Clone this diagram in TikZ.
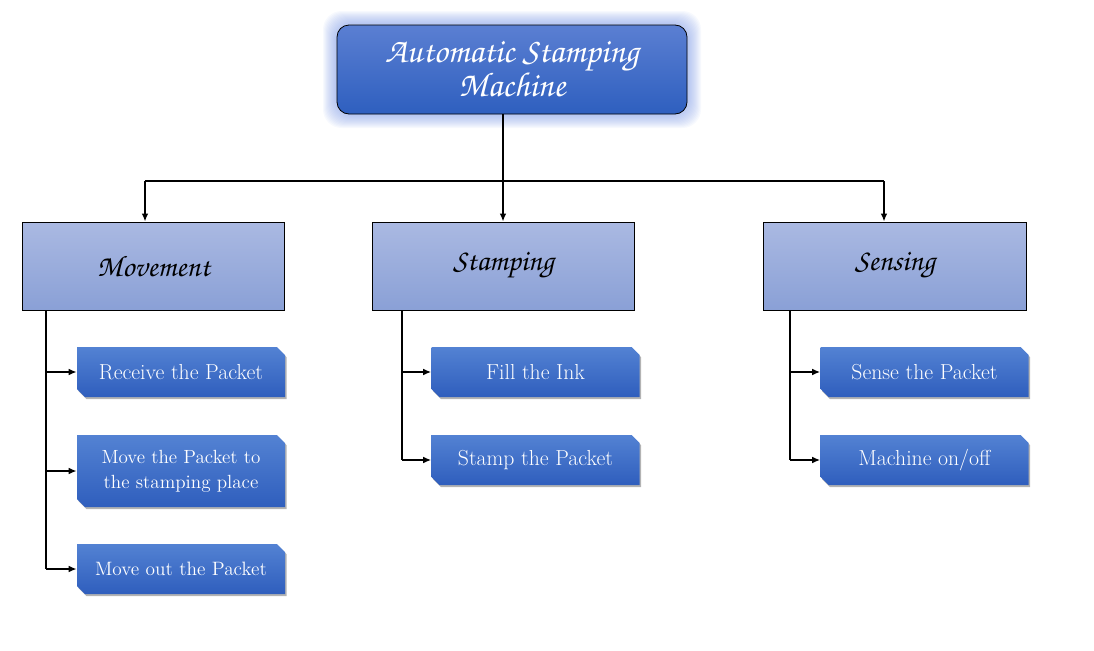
\documentclass[tikz,border=0pt]{standalone}
\usepackage[T1,TU]{fontenc}
\usepackage{xcolor}
\usepackage{tikz}
\usetikzlibrary{arrows.meta, positioning, shapes.misc, shadows, calc}

\definecolor{topblue}{HTML}{5B7FD2}
\definecolor{botblue}{HTML}{2E5FBF}
\definecolor{glowblue}{HTML}{7F9BE6}
\definecolor{grouptop}{HTML}{AAB9E2}
\definecolor{groupbot}{HTML}{8AA0D6}
\definecolor{tasktop}{HTML}{5382D3}
\definecolor{taskbot}{HTML}{2F5EBD}

\newcommand{\zapffont}{\fontencoding{T1}\fontfamily{pzc}\fontseries{mb}\fontshape{it}\selectfont}

\tikzset{
  topbox/.style={draw=black, line width=0.6pt, rounded corners=9pt,
    top color=topblue, bottom color=botblue,
    minimum width=262.5pt, minimum height=66.75pt, text=white, align=center,
    font=\zapffont\fontsize{26}{21}\selectfont},
  groupbox/.style={draw=black, line width=0.6pt,
    top color=grouptop, bottom color=groupbot,
    minimum width=197pt, minimum height=66pt,
    font=\zapffont\fontsize{22.5}{24}\selectfont},
  taskbox/.style={chamfered rectangle, chamfered rectangle corners={north east,south west},
    chamfered rectangle xsep=3pt, chamfered rectangle ysep=3pt,
    top color=tasktop, bottom color=taskbot, inner sep=0pt,
    minimum width=156pt, minimum height=37.5pt, text=white, align=center,
    drop shadow={shadow xshift=1.2pt, shadow yshift=-1.6pt, opacity=0.6, fill=black!50},
    font=\fontsize{16.3}{19}\selectfont},
  link/.style={line width=1.3pt, -{Latex[length=6pt,width=5pt]}}
}

\begin{document}
\begin{tikzpicture}[x=0.75pt, y=-0.75pt]
  % frame 1094 x 650 px, y downwards
  \useasboundingbox (0,0) rectangle (1094,650);
  % glow round the title box
  \foreach \g in {1,...,14} {
    \fill[glowblue, opacity=0.06, rounded corners=14pt] (337-\g,25-\g) rectangle (687+\g,114+\g);
  }
  \node[topbox] (machine) at (512,69.5) {Automatic Stamping\\[-2pt]Machine};

  % groups
  \node[groupbox] (movement) at (153.5,266) {Movement};
  \node[groupbox] (stamping) at (503.5,266) {Stamping};
  \node[groupbox] (sensing) at (895,266) {Sensing};

  % bus
  \coordinate (busL) at (145,181);
  \coordinate (busM) at (503,181);
  \coordinate (busR) at (884,181);
  \draw[line width=1.3pt] (machine.south -| busM) -- (busM);
  \draw[line width=1.3pt] (busL) -- (busR);
  \draw[link] (busL) -- (busL |- movement.north);
  \draw[link] (busM) -- (busM |- stamping.north);
  \draw[link] (busR) -- (busR |- sensing.north);

  % tasks
  \node[taskbox] (receive) at (181,372) {Receive the Packet};
  \node[taskbox, minimum height=54pt, font=\fontsize{14.3}{18.75}\selectfont] (moveto) at (181,471) {Move the Packet to\\the stamping place};
  \node[taskbox, font=\fontsize{14.5}{17}\selectfont] (moveout) at (181,569) {Move out the Packet};
  \node[taskbox] (fill) at (535.5,372) {Fill the Ink};
  \node[taskbox] (stamp) at (535.5,460) {Stamp the Packet};
  \node[taskbox] (sense) at (924.5,372) {Sense the Packet};
  \node[taskbox] (onoff) at (924.5,460) {Machine on/off};

  % branches
  \coordinate (brM) at (46,0);
  \coordinate (brS) at (402,0);
  \coordinate (brR) at (790,0);
  \draw[line width=1.3pt] (movement.south -| brM) -- (moveout.west -| brM);
  \draw[line width=1.3pt] (stamping.south -| brS) -- (stamp.west -| brS);
  \draw[line width=1.3pt] (sensing.south -| brR) -- (onoff.west -| brR);
  \foreach \t in {receive, moveto, moveout} {
    \draw[link] (\t.west -| brM) -- (\t.west);
  }
  \foreach \t in {fill, stamp} {
    \draw[link] (\t.west -| brS) -- (\t.west);
  }
  \foreach \t in {sense, onoff} {
    \draw[link] (\t.west -| brR) -- (\t.west);
  }
\end{tikzpicture}
\end{document}
